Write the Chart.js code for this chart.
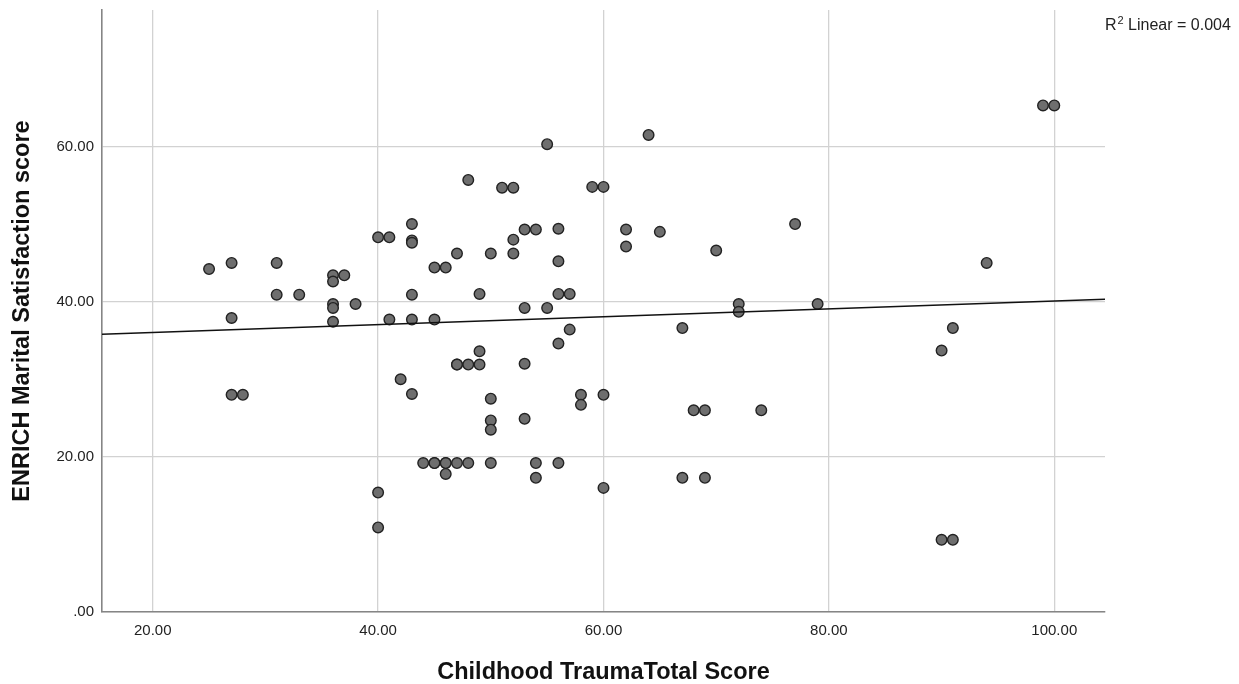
<!DOCTYPE html>
<html>
<head>
<meta charset="utf-8">
<title>ENRICH Marital Satisfaction vs Childhood Trauma</title>
<script src="https://cdn.jsdelivr.net/npm/chart.js@4.4.1/dist/chart.umd.min.js"></script>
<style>
    html, body { margin: 0; padding: 0; background: #fff; }
    canvas { display: block; }
</style>
</head>
<body>
<canvas id="scatterChart" width="1239" height="684"></canvas>
<script>
// Childhood Trauma total score (x) for each respondent
const traumaScores = [
    25, 27, 27, 27, 28, 31, 31, 33,
    36, 36, 36, 36, 36, 37, 38,
    40, 40, 40, 41, 41, 42,
    43, 43, 43, 43, 43, 43, 44,
    45, 45, 45, 45, 46, 46, 46, 46,
    47, 47, 47, 47, 48, 48, 48, 49, 49, 49,
    50, 50, 50, 50, 50, 51, 52, 52, 52,
    53, 53, 53, 53, 54, 54, 54, 55, 55,
    56, 56, 56, 56, 56, 57, 57, 58, 58, 59,
    60, 60, 60, 62, 62, 64, 65, 67, 67, 68, 69, 69,
    70, 72, 72, 74, 77, 79, 90, 90, 91, 91, 94, 99, 100
];

// ENRICH Marital Satisfaction score (y), same order as traumaScores
const satisfactionScores = [
    44.2, 45.0, 37.9, 28.0, 28.0, 45.0, 40.9, 40.9,
    43.4, 42.6, 39.7, 39.2, 37.4, 43.4, 39.7,
    48.3, 15.4, 10.9, 48.3, 37.7, 30.0,
    50.0, 47.9, 47.6, 40.9, 37.7, 28.1, 19.2,
    44.4, 37.7, 19.2, 19.2, 44.4, 19.2, 19.2, 17.8,
    46.2, 31.9, 31.9, 19.2, 55.7, 31.9, 19.2, 41.0, 33.6, 31.9,
    46.2, 27.5, 24.7, 23.5, 19.2, 54.7, 54.7, 48.0, 46.2,
    49.3, 39.2, 32.0, 24.9, 49.3, 19.2, 17.3, 60.3, 39.2,
    49.4, 45.2, 41.0, 34.6, 19.2, 41.0, 36.4, 28.0, 26.7, 54.8,
    54.8, 28.0, 16.0, 49.3, 47.1, 61.5, 49.0, 36.6, 17.3, 26.0, 26.0, 17.3,
    46.6, 39.7, 38.7, 26.0, 50.0, 39.7, 33.7, 9.3, 36.6, 9.3, 45.0, 65.3, 65.3
];

// Axis ticks and labels
const xTicks = [20, 40, 60, 80, 100];
const xTickLabels = ['20.00', '40.00', '60.00', '80.00', '100.00'];
const yTicks = [0, 20, 40, 60];
const yTickLabels = ['.00', '20.00', '40.00', '60.00'];

// Axis ranges
const xRange = [15.5, 104.5];
const yRange = [0, 77.6];

// Linear fit line
const fitIntercept = 35.0;
const fitSlope = 0.051;
const rSquaredText = '0.004';

const FONT = "'Liberation Sans', Arial, sans-serif";

// Build point list for the scatter dataset
function buildPoints() {
    return traumaScores.map((x, i) => ({ x: x, y: satisfactionScores[i] }));
}

// Build the two ends of the fit line across the x range
function buildFitLine() {
    return xRange.map(x => ({ x: x, y: fitIntercept + fitSlope * x }));
}

// Draws the "R² Linear = ..." note in the top right corner
const rSquaredPlugin = {
    id: 'rSquaredLabel',
    afterDraw(chart) {
        const ctx = chart.ctx;
        const x = chart.chartArea.right;
        const y = 30;
        ctx.save();
        ctx.fillStyle = '#222';
        ctx.textBaseline = 'alphabetic';
        ctx.textAlign = 'left';
        ctx.font = `16px ${FONT}`;
        ctx.fillText('R', x, y);
        let cursor = x + ctx.measureText('R').width + 1;
        ctx.font = `11px ${FONT}`;
        ctx.fillText('2', cursor, y - 6.5);
        cursor += ctx.measureText('2').width;
        ctx.font = `16px ${FONT}`;
        ctx.fillText(' Linear = ' + rSquaredText, cursor, y);
        ctx.restore();
    }
};

// Create scatter chart
function createScatterChart() {
    const ctx = document.getElementById('scatterChart').getContext('2d');

    return new Chart(ctx, {
        type: 'scatter',
        data: {
            datasets: [
                {
                    label: 'Respondents',
                    data: buildPoints(),
                    pointRadius: 5.3,
                    pointHoverRadius: 5.3,
                    pointBackgroundColor: '#6e6e6e',
                    pointBorderColor: '#222',
                    pointBorderWidth: 1.4,
                    order: 1
                },
                {
                    type: 'line',
                    label: 'Linear fit',
                    data: buildFitLine(),
                    borderColor: '#111',
                    borderWidth: 1.5,
                    pointRadius: 0,
                    fill: false,
                    order: 0
                }
            ]
        },
        options: {
            responsive: false,
            animation: false,
            layout: { padding: { left: 0, top: 10, right: 134, bottom: 0 } },
            plugins: {
                legend: { display: false },
                tooltip: { enabled: false }
            },
            scales: {
                x: {
                    type: 'linear',
                    min: xRange[0],
                    max: xRange[1],
                    afterBuildTicks: (scale) => { scale.ticks = xTicks.map(v => ({ value: v })); },
                    afterFit: (scale) => {
                        scale.height = 72;
                        scale.paddingLeft = 0;
                        scale.paddingRight = 0;
                    },
                    ticks: {
                        padding: 10,
                        color: '#222',
                        font: { family: FONT, size: 15 },
                        callback: (value) => xTickLabels[xTicks.indexOf(value)]
                    },
                    grid: { color: '#d2d2d2', lineWidth: 1.3, drawTicks: false },
                    border: { display: true, color: '#858585', width: 1.6 },
                    title: {
                        display: true,
                        text: 'Childhood TraumaTotal Score',
                        color: '#111',
                        font: { family: FONT, size: 23.5, weight: 'bold' },
                        padding: { top: 0, bottom: -3 }
                    }
                },
                y: {
                    type: 'linear',
                    min: yRange[0],
                    max: yRange[1],
                    afterBuildTicks: (scale) => { scale.ticks = yTicks.map(v => ({ value: v })); },
                    afterFit: (scale) => {
                        scale.width = 102;
                        scale.paddingTop = 0;
                        scale.paddingBottom = 0;
                    },
                    ticks: {
                        padding: 8,
                        color: '#222',
                        font: { family: FONT, size: 15 },
                        callback: (value) => yTickLabels[yTicks.indexOf(value)]
                    },
                    grid: { color: '#d2d2d2', lineWidth: 1.3, drawTicks: false },
                    border: { display: true, color: '#858585', width: 1.6 },
                    title: {
                        display: true,
                        text: 'ENRICH Marital Satisfaction score',
                        color: '#111',
                        font: { family: FONT, size: 23.5, weight: 'bold' },
                        padding: { top: 8.5, bottom: 0 }
                    }
                }
            }
        },
        plugins: [rSquaredPlugin]
    });
}

createScatterChart();
</script>
</body>
</html>
